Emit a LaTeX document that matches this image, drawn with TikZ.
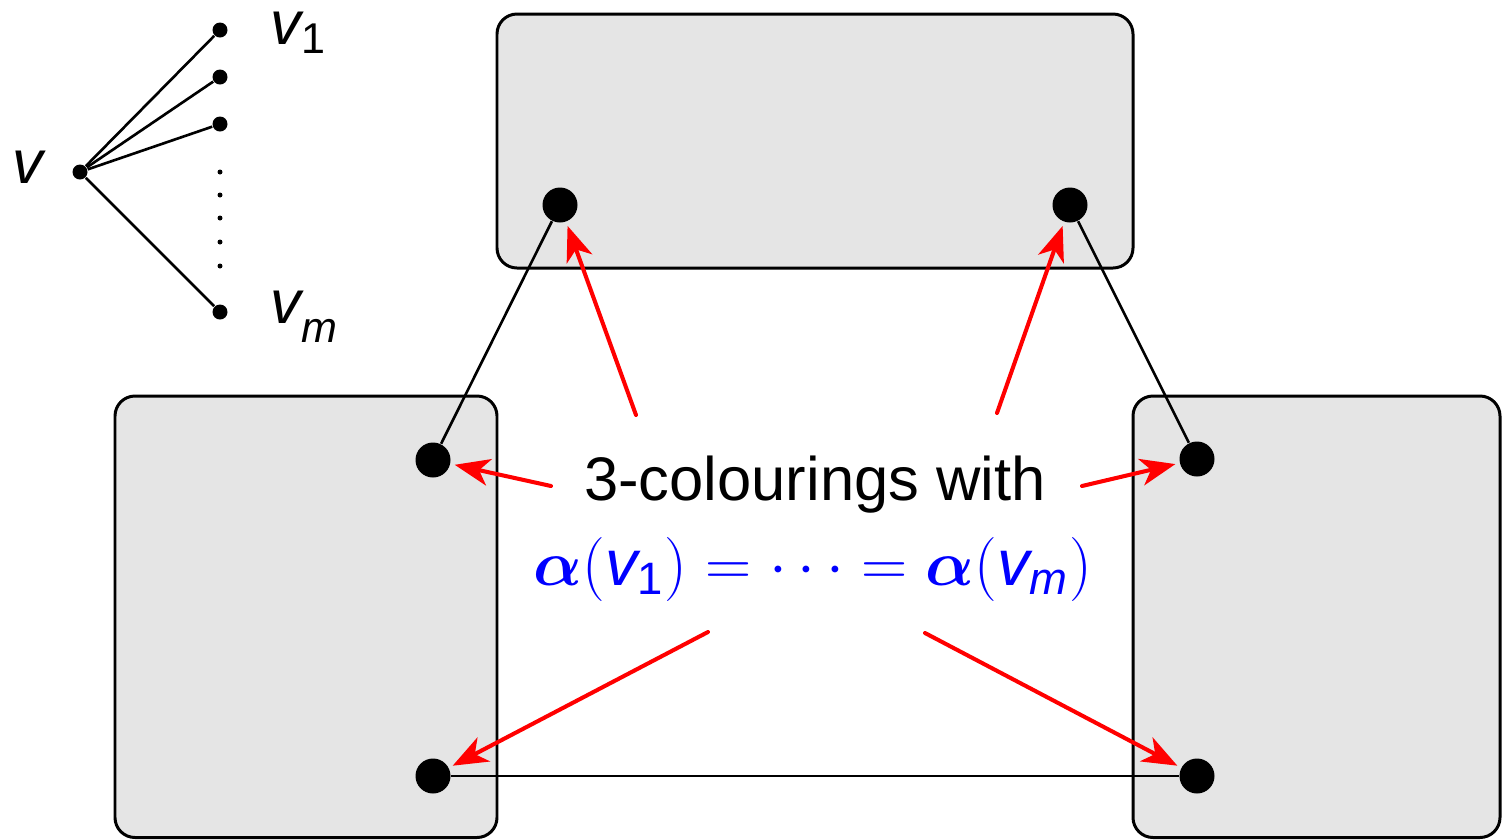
\documentclass[tikz,border=0pt]{standalone}
\usepackage{amsmath,amssymb}
\usepackage[no-math]{fontspec}
\setmainfont{Liberation Sans}
\usepackage{tikz}
\usetikzlibrary{arrows.meta,positioning,calc}

\begin{document}
\begin{tikzpicture}[>=Stealth, font=\fontsize{17.5}{21}\selectfont,
    region/.style={draw, line width=0.85pt, fill=black!10, rounded corners=0.2cm},
    bigvtx/.style={circle, fill=black, inner sep=0pt, minimum size=0.35cm},
    smallvtx/.style={circle, fill=black, inner sep=0pt, minimum size=0.15cm},
    edge/.style={line width=0.75pt},
    lbl/.style={inner sep=0pt},
    hint/.style={->, red, line width=1.15pt, line cap=round, shorten >=0.04cm,
        >={Stealth[length=0.35cm,width=0.27cm,inset=0.1cm]}}]
    \clip (0,0) rectangle (15.03,-8.39);

    % the three blocks
    \draw[region] (4.97,-0.14) rectangle (11.33,-2.68);
    \draw[region] (1.15,-3.96) rectangle (4.97,-8.375);
    \draw[region] (11.33,-3.96) rectangle (15.00,-8.375);

    % the star at v
    \node[smallvtx] (v) at (0.80,-1.72) {};
    \node[smallvtx] (v1) at (2.20,-0.30) {};
    \node[smallvtx] (v2) at (2.20,-0.77) {};
    \node[smallvtx] (v3) at (2.20,-1.24) {};
    \node[smallvtx] (vm) at (2.20,-3.12) {};
    \foreach \y in {-1.72,-1.95,-2.18,-2.42,-2.66}
        \fill (2.20,\y) circle (0.025);
    \draw[edge] (v) -- (v1);
    \draw[edge] (v) -- (v2);
    \draw[edge] (v) -- (v3);
    \draw[edge] (v) -- (vm);
    \node[lbl, anchor=base west] (lv) at (0.12,-1.83) {\textit{v}};
    \node[lbl, anchor=base west] (lv1) at (2.70,-0.44) {$\textit{v}_{\text{1}}$};
    \node[lbl, anchor=base west] (lvm) at (2.70,-3.23)
        {$\textit{v}_{\text{\raisebox{-3pt}{\textit{m}}}}$};

    % copies of v
    \node[bigvtx] (tl) at (5.60,-2.05) {};
    \node[bigvtx] (tr) at (10.70,-2.05) {};
    \node[bigvtx] (lu) at (4.33,-4.60) {};
    \node[bigvtx] (ru) at (11.97,-4.59) {};
    \node[bigvtx] (ll) at (4.33,-7.76) {};
    \node[bigvtx] (rl) at (11.97,-7.76) {};
    \draw[edge] (tl) -- (lu);
    \draw[edge] (tr) -- (ru);
    \draw[edge] (ll) -- (rl);

    \node[lbl, anchor=base] (cap) at (8.15,-5.00) {3-colourings with};
    \node[lbl, anchor=base, text=blue, scale=1.055, transform shape] (cond) at (8.13,-5.85)
        {$\boldsymbol{\alpha}(\textit{v}_{\text{1}}) = \cdots = \boldsymbol{\alpha}(\textit{v}_{\textit{m}})$};

    \coordinate (s1) at (6.36,-4.15);
    \coordinate (s2) at (9.97,-4.13);
    \coordinate (s3) at (5.51,-4.86);
    \coordinate (s4) at (10.82,-4.86);
    \coordinate (s5) at (7.08,-6.32);
    \coordinate (s6) at (9.25,-6.33);
    \draw[hint] (s1) -- (tl);
    \draw[hint] (s2) -- (tr);
    \draw[hint] (s3) -- (lu);
    \draw[hint] (s4) -- (ru);
    \draw[hint] (s5) -- (ll);
    \draw[hint] (s6) -- (rl);
\end{tikzpicture}
\end{document}
